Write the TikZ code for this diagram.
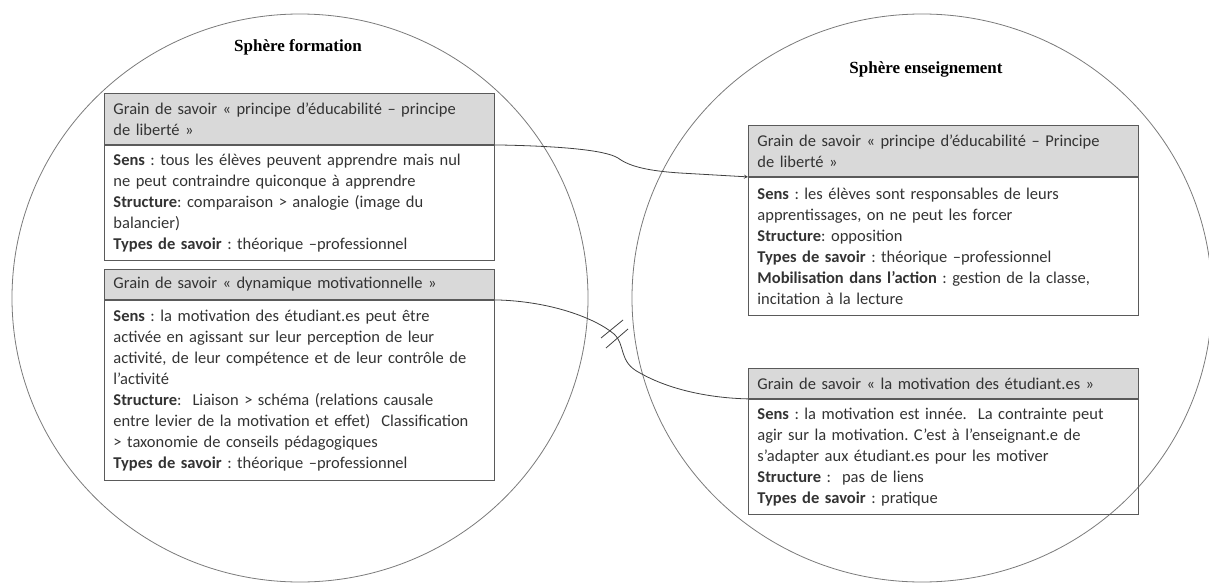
\documentclass[tikz,border=0pt]{standalone}
\usepackage{fontspec}
\setmainfont{Carlito}
\newfontfamily\titlefont{Liberation Serif}
\usepackage{xcolor}
\usepackage{tikz}
\usetikzlibrary{positioning}
\definecolor{headfill}{HTML}{D9D9D9}
\definecolor{boxline}{HTML}{5A5A5A}
\definecolor{circline}{HTML}{7A7A7A}
\definecolor{txt}{HTML}{333333}
\frenchspacing
\hyphenpenalty=10000

\begin{document}
\begin{tikzpicture}[x=1pt,y=-1pt,>=stealth,
			sphere/.style={draw=circline,line width=0.8pt},
			title/.style={font=\titlefont\bfseries\fontsize{17}{20}\selectfont,text=black},
			grainhead/.style={draw=boxline,line width=0.9pt,fill=headfill,anchor=north west,
				text width=372pt,inner xsep=9pt,inner ysep=3pt,align=left,text=txt,
				font=\fontsize{16.5}{21}\selectfont},
			grainbody/.style={draw=boxline,line width=0.9pt,text width=372pt,inner xsep=9pt,
				inner ysep=3pt,align=left,text=txt,font=\fontsize{16.5}{21}\selectfont},
			link/.style={draw=black!75,line width=0.8pt},
			]
			\useasboundingbox (0,0) rectangle (1209,583);
			
			% les deux sphères
			\draw[sphere] (300,298) ellipse [x radius=288pt, y radius=284pt];
			\draw[sphere] (922,298) ellipse [x radius=290pt, y radius=284pt];
			\node[title] (tform) at (298,47) {Sphère formation};
			\node[title] (tens) at (926,69) {Sphère enseignement};
			
			% sphère formation : deux grains
			\node[grainhead,minimum height=51pt] (h1) at (104,93)
			{Grain de savoir « principe d’éducabilité – principe\\de liberté »};
			\node[grainbody,minimum height=115pt,below=0pt of h1] (b1)
			{\textbf{Sens} : tous les élèves peuvent apprendre mais nul\\
				ne peut contraindre quiconque à apprendre\\
				\textbf{Structure}: comparaison > analogie (image du\\
				balancier)\\
				\textbf{Types de savoir} : théorique –professionnel};
			
			\node[grainhead,minimum height=30pt] (h2) at (104,269)
			{Grain de savoir « dynamique motivationnelle »};
			\node[grainbody,minimum height=180pt,below=0pt of h2] (b2)
			{\textbf{Sens} : la motivation des étudiant.es peut être\\
				activée en agissant sur leur perception de leur\\
				activité, de leur compétence et de leur contrôle de\\
				l’activité\\
				\textbf{Structure}:~ Liaison > schéma (relations causale\\
				entre levier de la motivation et effet)~ Classification\\
				> taxonomie de conseils pédagogiques\\
				\textbf{Types de savoir} : théorique –professionnel};
			
			% sphère enseignement : deux grains
			\node[grainhead,minimum height=51pt] (h3) at (748,125)
			{Grain de savoir « principe d’éducabilité – Principe\\de liberté »};
			\node[grainbody,minimum height=138pt,below=0pt of h3] (b3)
			{\textbf{Sens} : les élèves sont responsables de leurs\\
				apprentissages, on ne peut les forcer\\
				\textbf{Structure}: opposition\\
				\textbf{Types de savoir} : théorique –professionnel\\
				\textbf{Mobilisation dans l’action} : gestion de la classe,\\
				incitation à la lecture};
			
			\node[grainhead,minimum height=30pt] (h4) at (748,368)
			{Grain de savoir « la motivation des étudiant.es »};
			\node[grainbody,minimum height=115pt,below=0pt of h4] (b4)
			{\textbf{Sens} : la motivation est innée.~ La contrainte peut\\
				agir sur la motivation. C’est à l’enseignant.e de\\
				s’adapter aux étudiant.es pour les motiver\\
				\textbf{Structure} :~ pas de liens\\
				\textbf{Types de savoir} : pratique};
			
			% lien éducabilité -> éducabilité
			\draw[link,->] (h1.south east) .. controls (560,146) and (605,150) .. (618,158)
			.. controls (630,167) and (650,171) .. (680,173) -- (h3.south west);
			
			% lien motivation -- motivation, coupé
			\draw[link] (h2.south east) .. controls (550,301) and (595,318) .. (614,334)
			coordinate (cut)
			.. controls (626,345) and (618,362) .. (640,373)
			.. controls (670,390) and (710,398) .. (h4.south west);
			\draw[link] ([shift={(-13,4)}]cut) -- ([shift={(9,-14)}]cut);
			\draw[link] ([shift={(-8,14)}]cut) -- ([shift={(14,-5)}]cut);
		\end{tikzpicture}
\end{document}
